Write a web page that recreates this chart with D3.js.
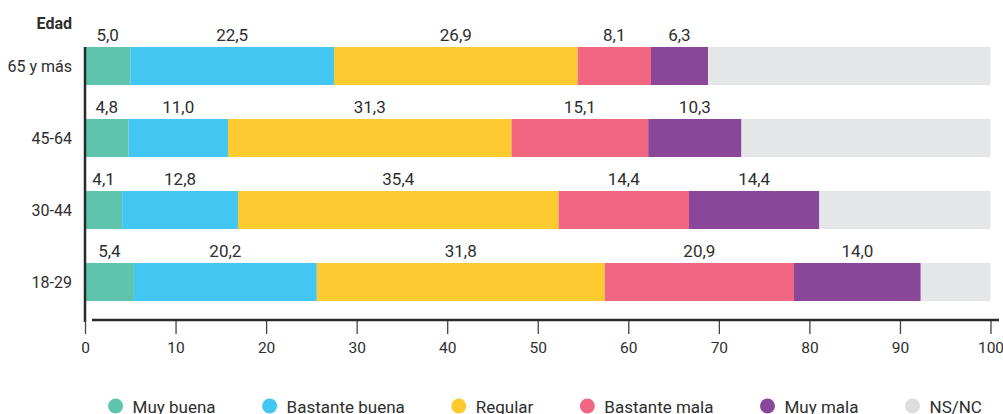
<!DOCTYPE html>
<html>
<head>
<meta charset="utf-8">
<script src="https://cdn.jsdelivr.net/npm/d3@7"></script>
<style>
  body { margin: 0; background: #fff; }
  svg text { font-family: Roboto, "Noto Sans", sans-serif; fill: #2e2e2e; }
</style>
</head>
<body>
<div id="chart"></div>
<script>
// age groups, top to bottom
var groups = ["65 y más", "45-64", "30-44", "18-29"];
var categories = ["Muy buena", "Bastante buena", "Regular", "Bastante mala", "Muy mala", "NS/NC"];
var colors = ["#5ec4ad", "#42c7f2", "#fdca2f", "#f16782", "#8a4699", "#e5e6e8"];

// values per category, same order as groups (NS/NC is the rest up to 100)
var muyBuena      = [5.0, 4.8, 4.1, 5.4];
var bastanteBuena = [22.5, 11.0, 12.8, 20.2];
var regular       = [26.9, 31.3, 35.4, 31.8];
var bastanteMala  = [8.1, 15.1, 14.4, 20.9];
var muyMala       = [6.3, 10.3, 14.4, 14.0];
var nsnc          = [31.2, 27.5, 18.9, 7.7];

var xTicks = [0, 10, 20, 30, 40, 50, 60, 70, 80, 90, 100];

var series = [muyBuena, bastanteBuena, regular, bastanteMala, muyMala, nsnc];

var width = 1003, height = 414;

var svg = d3.select("#chart").append("svg")
    .attr("width", width)
    .attr("height", height);

var x = d3.scaleLinear().domain([0, 100]).range([85, 990.5]);
var y = d3.scaleBand().domain(groups).range([30, 318])
    .paddingInner(0.472).paddingOuter(0.236);

// build stacked rows
var rows = groups.map(function(g, i){
    var obj = {group: g};
    categories.forEach(function(c, j){ obj[c] = series[j][i]; });
    return obj;
});
var stacked = d3.stack().keys(categories)(rows);

var layers = svg.selectAll(".layer")
    .data(stacked)
    .enter().append("g")
    .attr("class", "layer")
    .attr("fill", function(d, i){ return colors[i]; });

layers.selectAll("rect")
    .data(function(d){ return d; })
    .enter().append("rect")
    .attr("x", function(d){ return x(d[0]); })
    .attr("y", function(d){ return y(d.data.group); })
    .attr("width", function(d){ return x(d[1]) - x(d[0]); })
    .attr("height", y.bandwidth());

// value labels above each segment (no label for NS/NC)
stacked.forEach(function(layer, i){
    if (categories[i] === "NS/NC") return;
    svg.append("g").selectAll("text")
        .data(layer)
        .enter().append("text")
        .attr("x", function(d){ return x((d[0] + d[1]) / 2); })
        .attr("y", function(d){ return y(d.data.group) - 6; })
        .attr("text-anchor", "middle")
        .style("font-size", "17px")
        .text(function(d){ return (d[1] - d[0]).toFixed(1).replace(".", ","); });
});

// category labels
svg.append("g").selectAll("text")
    .data(groups)
    .enter().append("text")
    .attr("x", 72)
    .attr("y", function(d){ return y(d) + y.bandwidth() / 2; })
    .attr("dy", "0.35em")
    .attr("text-anchor", "end")
    .style("font-size", "16px")
    .text(function(d){ return d; });

svg.append("text")
    .attr("x", 72)
    .attr("y", 29)
    .attr("text-anchor", "end")
    .style("font-size", "16px")
    .style("font-weight", "bold")
    .text("Edad");

// left baseline
svg.append("line")
    .attr("x1", x(0)).attr("x2", x(0))
    .attr("y1", y(groups[0])).attr("y2", 322)
    .attr("stroke", "#2a2a2a")
    .attr("stroke-width", 2.5);

// x axis
var axis = svg.append("g")
    .attr("transform", "translate(0,320)")
    .call(d3.axisBottom(x).tickValues(xTicks).tickSize(14).tickPadding(8)
        .tickFormat(function(d){ return d; }));
axis.select(".domain").remove();
axis.selectAll(".tick line").attr("stroke", "#444").attr("stroke-width", 1.3);
axis.selectAll(".tick text").style("font-size", "15.5px").attr("fill", "#2e2e2e")
    .style("font-family", "Roboto, \"Noto Sans\", sans-serif");
axis.append("line")
    .attr("x1", 92).attr("x2", 999)
    .attr("y1", 0).attr("y2", 0)
    .attr("stroke", "#2a2a2a")
    .attr("stroke-width", 2.5);

// legend, centred under the chart
var legend = svg.append("g").attr("transform", "translate(0,406)");
var items = legend.selectAll("g")
    .data(categories)
    .enter().append("g");
items.append("circle")
    .attr("r", 7.5)
    .attr("fill", function(d, i){ return i === 5 ? "#dcdddf" : colors[i]; });
items.append("text")
    .attr("x", 17)
    .attr("y", 7)
    .style("font-size", "17px")
    .text(function(d){ return d; });

var gap = 54;
var pos = 0;
var offsets = [];
items.each(function(d){
    var w = d3.select(this).select("text").node().getComputedTextLength();
    offsets.push(pos);
    pos += 17 + w + gap;
});
var total = pos - gap;
var start = 545 - (total - 7.5) / 2;
items.attr("transform", function(d, i){ return "translate(" + (start + offsets[i]) + ",0)"; });
</script>
</body>
</html>
